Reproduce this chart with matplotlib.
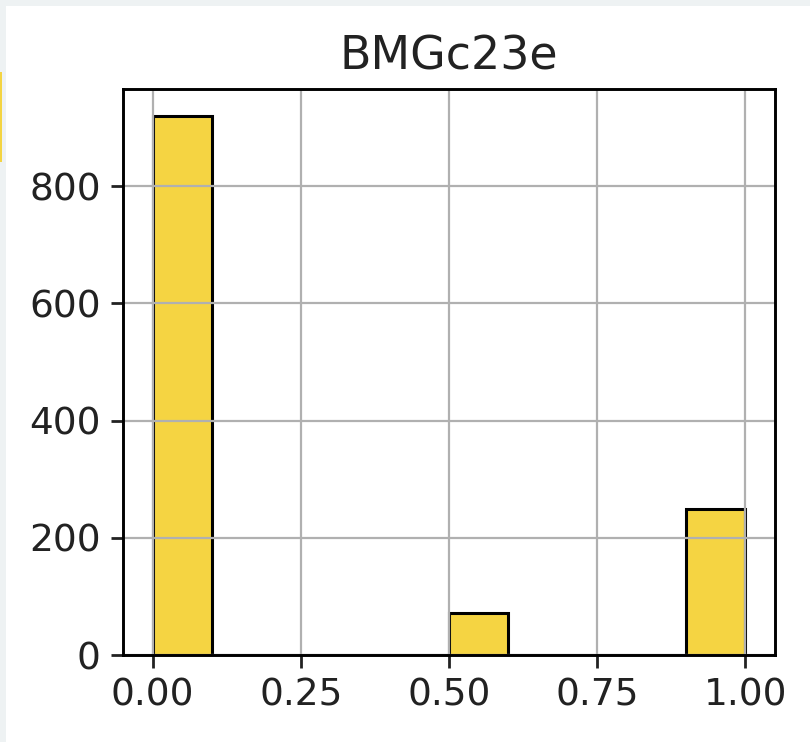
import matplotlib
matplotlib.use("Agg")

import matplotlib.pyplot as plt
from matplotlib.patches import Rectangle

# histogram of BMGc23e, 10 bins over 0..1
bin_edges = [0.0, 0.1, 0.2, 0.3, 0.4, 0.5, 0.6, 0.7, 0.8, 0.9, 1.0]
counts = [920, 0, 0, 0, 0, 72, 0, 0, 0, 250]
title = "BMGc23e"
xticks = [0.0, 0.25, 0.5, 0.75, 1.0]
yticks = [0, 200, 400, 600, 800]

fig = plt.figure(figsize=(8.1, 7.42), dpi=100, facecolor="#eef2f3")
# white card on the gray page
fig.patches.append(Rectangle((6 / 810, 0), 1, 1 - 6 / 742, transform=fig.transFigure,
                             facecolor="white", edgecolor="none", zorder=-2))
# clipped bit of the neighbouring chart at the left edge
fig.patches.append(Rectangle((0, 1 - 162 / 742), 2 / 810, 90 / 742, transform=fig.transFigure,
                             facecolor="#f4d442", edgecolor="none", zorder=-2))

ax = fig.add_axes([123 / 810, 87 / 742, 652 / 810, 566 / 742])
ax.hist(bin_edges[:-1], bins=bin_edges, weights=counts,
        color="#f5d442", edgecolor="black", linewidth=2.2)

ax.set_title(title, fontsize=33, pad=14, color="#222222")
ax.set_xticks(xticks)
ax.set_xticklabels([f"{t:.2f}" for t in xticks])
ax.set_yticks(yticks)
ax.tick_params(labelsize=27, width=2.0, length=9, pad=7, colors="#222222")
ax.grid(True, color="#b0b0b0", linewidth=1.6)
for s in ax.spines.values():
    s.set_linewidth(2.1)

fig.savefig("out.png", dpi=100, facecolor=fig.get_facecolor())
